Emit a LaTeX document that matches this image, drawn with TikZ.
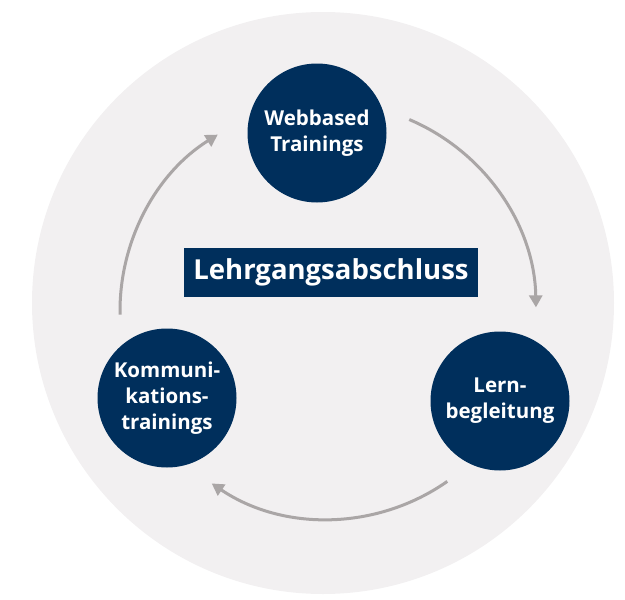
\documentclass[tikz,border=0pt]{standalone}
\usepackage{fontspec}
\setmainfont{Open Sans}
\usetikzlibrary{arrows.meta,calc}
\definecolor{navy}{RGB}{0,47,92}
\definecolor{bgcircle}{RGB}{242,240,241}
\definecolor{arrowgray}{RGB}{170,166,166}
\tikzset{
  stage/.style={circle, fill=navy, draw=none, minimum size=139pt, inner sep=0pt,
    text=white, align=center, font=\bfseries\fontsize{20.5pt}{26pt}\selectfont},
  titlebox/.style={rectangle, fill=navy, draw=none, minimum width=294pt, minimum height=49pt,
    inner sep=0pt, text=white, font=\bfseries\fontsize{27.5pt}{30pt}\selectfont},
  cyclearrow/.style={draw=arrowgray, line width=3pt, -{Triangle[length=12pt,width=13pt]}}
}
\begin{document}
\begin{tikzpicture}[x=1pt,y=-1pt]
\useasboundingbox (0,0) rectangle (625,600);
\fill[bgcircle] (323,303) circle[radius=291];
\node[stage] (wbt) at (317,133) {Webbased\\Trainings};
\node[stage] (lern) at (500,401) {Lern-\\begleitung};
\node[stage] (komm) at (167,398) {Kommuni-\\kations-\\trainings};
\node[titlebox] (title) at (331,272) {Lehrgangsabschluss};
\coordinate (c) at (328,311);
\coordinate (a1) at ($(c)+(-67:208)$);
\coordinate (a2) at ($(c)+(55:208)$);
\coordinate (a3) at ($(c)+(-181:208)$);
\draw[cyclearrow] (a1) arc[start angle=-67, end angle=-1, radius=208];
\draw[cyclearrow] (a2) arc[start angle=55, end angle=124, radius=208];
\draw[cyclearrow] (a3) arc[start angle=-181, end angle=-122, radius=208];
\end{tikzpicture}
\end{document}
